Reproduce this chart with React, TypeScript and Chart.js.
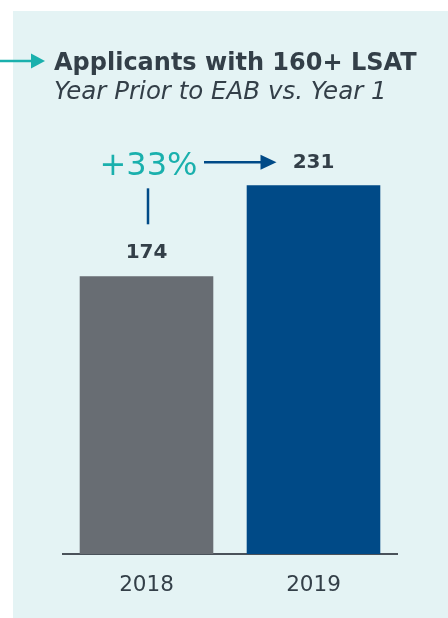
import { useEffect, useRef } from "react";
import { Chart, registerables } from "chart.js";

Chart.register(...registerables);

const categories = ["2018", "2019"];
const values = [174, 231];
const barColors = ["#686d73", "#004a87"];
const titleText = "Applicants with 160+ LSAT";
const subtitleText = "Year Prior to EAB vs. Year 1";
const changeLabel = "+33%";

const TEAL = "#1ab0ad";
const NAVY = "#004a87";
const TEXT = "#333f48";
const PANEL = "#e4f3f4";
const FONT = "'DejaVu Sans', Verdana, sans-serif";

function arrow(ctx: CanvasRenderingContext2D, x1: number, x2: number, y: number, head: number, half: number, color: string, lw: number) {
  ctx.strokeStyle = color;
  ctx.fillStyle = color;
  ctx.lineWidth = lw;
  ctx.beginPath();
  ctx.moveTo(x1, y);
  ctx.lineTo(x2 - head + 1, y);
  ctx.stroke();
  ctx.beginPath();
  ctx.moveTo(x2 - head, y - half);
  ctx.lineTo(x2, y);
  ctx.lineTo(x2 - head, y + half);
  ctx.closePath();
  ctx.fill();
}

export default function App() {
  const ref = useRef<HTMLCanvasElement>(null);

  useEffect(() => {
    document.body.style.margin = "0";
    const canvas = ref.current!;

    const panelPlugin = {
      id: "panel",
      beforeDraw(chart: any) {
        const ctx: CanvasRenderingContext2D = chart.ctx;
        ctx.save();
        ctx.fillStyle = PANEL;
        ctx.fillRect(13, 11, chart.width - 13, chart.height - 11);
        // top-left arrow
        arrow(ctx, 0, 45, 61, 14, 7.5, TEAL, 2.5);
        // title & subtitle
        ctx.fillStyle = TEXT;
        ctx.textAlign = "left";
        ctx.textBaseline = "alphabetic";
        ctx.font = `bold 24px ${FONT}`;
        ctx.fillText(titleText, 54, 69.5);
        ctx.font = `italic 24.5px ${FONT}`;
        ctx.fillText(subtitleText, 54, 98.5);
        ctx.restore();
      },
    };

    const labelPlugin = {
      id: "labels",
      afterDatasetsDraw(chart: any) {
        const ctx: CanvasRenderingContext2D = chart.ctx;
        const bars = chart.getDatasetMeta(0).data;
        ctx.save();
        ctx.fillStyle = TEXT;
        ctx.textAlign = "center";
        ctx.textBaseline = "middle";
        ctx.font = `bold 20px ${FONT}`;
        bars.forEach((b: any, i: number) => {
          ctx.fillText(String(values[i]), b.x, b.y - 23);
        });
        const b0 = bars[0];
        const b1 = bars[1];
        // change annotation
        ctx.fillStyle = TEAL;
        ctx.font = `32px ${FONT}`;
        ctx.fillText(changeLabel, b0.x + 2, b1.y - 19);
        ctx.strokeStyle = NAVY;
        ctx.lineWidth = 2.5;
        ctx.beginPath();
        ctx.moveTo(b0.x + 1.5, b1.y + 3);
        ctx.lineTo(b0.x + 1.5, b0.y - 52);
        ctx.stroke();
        arrow(ctx, 204, b1.x - 37, b1.y - 23, 16, 7.5, NAVY, 2.5);
        ctx.restore();
      },
    };

    const chart = new Chart(canvas, {
      type: "bar",
      data: {
        labels: categories,
        datasets: [
          {
            data: values,
            backgroundColor: barColors,
            borderWidth: 0,
            barPercentage: 0.8,
            categoryPercentage: 1,
          },
        ],
      },
      options: {
        responsive: false,
        devicePixelRatio: 1,
        animation: false,
        layout: { padding: { left: 63, right: 51, top: 155, bottom: 10 } },
        plugins: {
          legend: { display: false },
          tooltip: { enabled: false },
          title: { display: false },
        },
        scales: {
          y: { display: false, min: 0, max: 250 },
          x: {
            grid: { display: false },
            border: { display: true, color: "#4a525a", width: 2 },
            ticks: {
              color: TEXT,
              font: { family: FONT, size: 21.5 },
              padding: 11,
            },
            afterFit(scale: any) {
              scale.height = 54;
            },
          },
        },
      },
      plugins: [panelPlugin, labelPlugin],
    });

    return () => chart.destroy();
  }, []);

  return <canvas ref={ref} width={448} height={618} style={{ display: "block" }} />;
}
